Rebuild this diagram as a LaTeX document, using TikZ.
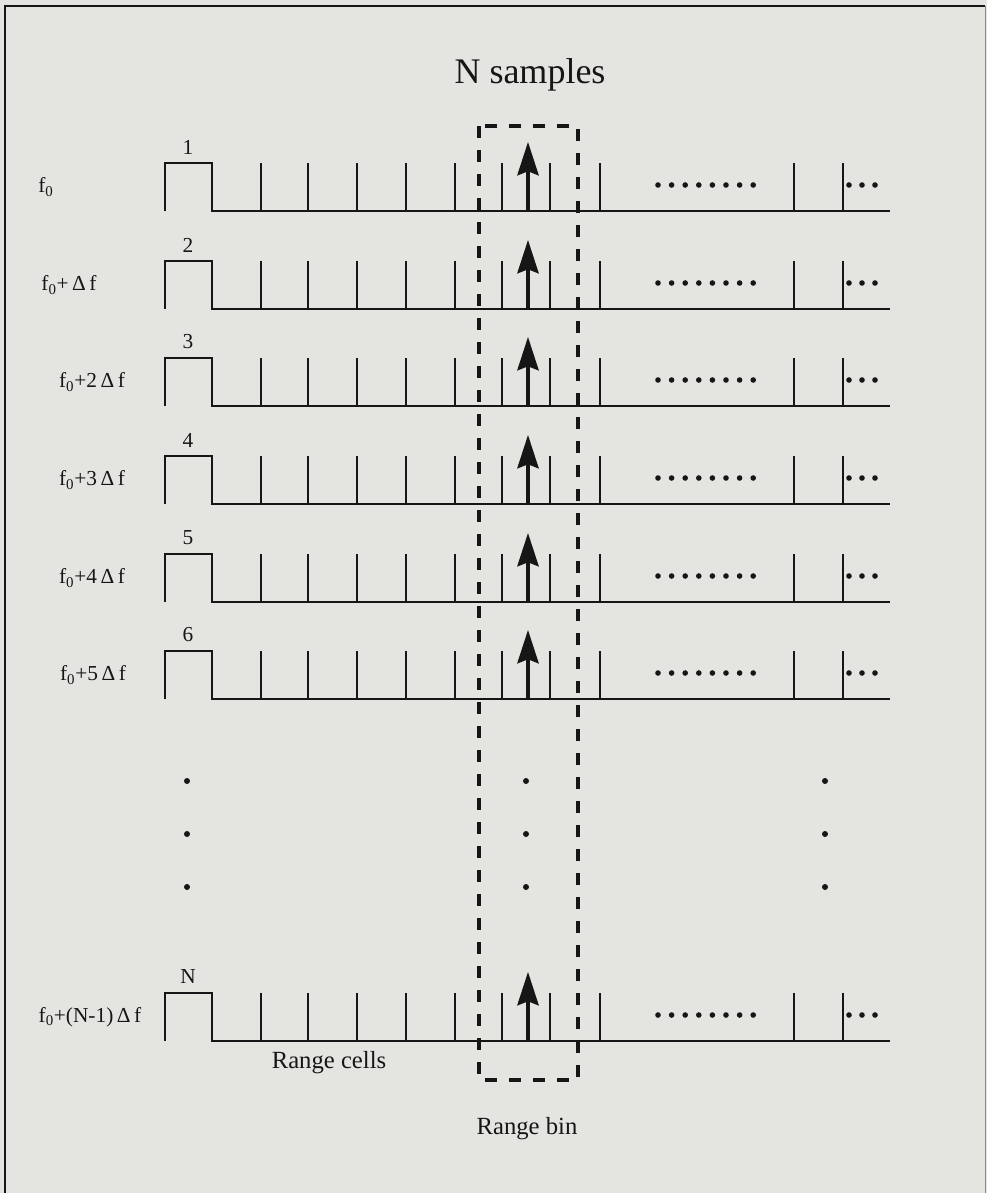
\documentclass[tikz,border=0pt]{standalone}
\usepackage{fontspec}
\setmainfont{Liberation Serif}
\usetikzlibrary{arrows.meta}
\definecolor{paper}{RGB}{228,229,225}
\definecolor{ink}{RGB}{22,22,22}
\begin{document}
\begin{tikzpicture}[x=0.75pt,y=-0.75pt,
  baseln/.style={ink,line width=1.6pt,line join=miter},
  tickln/.style={ink,line width=1.1pt},
  binarrow/.style={ink,line width=2.4pt,-{Stealth[length=25pt,width=16pt,inset=3pt]}},
  binbox/.style={ink,line width=2.4pt,dash pattern=on 9pt off 9pt},
  numlab/.style={font=\fontsize{16}{18}\selectfont,text=ink,inner sep=0pt},
  rowlab/.style={font=\fontsize{16}{18}\selectfont,text=ink,inner sep=0pt},
  dotmark/.style={ink},
  bigtitle/.style={font=\fontsize{27}{31}\selectfont,text=ink,inner sep=0pt},
  caption/.style={font=\fontsize{18.5}{22}\selectfont,text=ink,inner sep=0pt}]
\useasboundingbox (0,0) rectangle (987,1193);
\fill[paper] (0,0) rectangle (987,1193);
% frame
\draw[ink,line width=2pt] (5,1193) -- (5,6) -- (985,6);
\draw[ink!50,line width=0.6pt] (985,6) -- (985,1193);
% title
\node[bigtitle] (title) at (530,75) {N samples};
% rows
\foreach \i/\B/\n/\lx/\lab in {
  1/211/1/46/{f\textsubscript{0}},
  2/309/2/69/{f\textsubscript{0}+\,Δ\,f},
  3/406/3/92/{f\textsubscript{0}+2\,Δ\,f},
  4/504/4/92/{f\textsubscript{0}+3\,Δ\,f},
  5/602/5/92/{f\textsubscript{0}+4\,Δ\,f},
  6/699/6/93/{f\textsubscript{0}+5\,Δ\,f},
  7/1041/N/90/{f\textsubscript{0}+(N-1)\,Δ\,f}}{
  \draw[baseln] (165,\B) -- (165,{\B-48}) -- (212,{\B-48}) -- (212,\B) -- (890,\B);
  \foreach \t in {261,308,357,406,455,502,550,600,794,843}
    \draw[tickln] (\t,\B) -- (\t,{\B-48});
  \coordinate (foot\i) at (528,\B);
  \coordinate (tip\i) at (528,{\B-69});
  \draw[binarrow] (foot\i) -- (tip\i);
  \foreach \d in {0,...,7}
    \fill[dotmark] ({658+13.6*\d},{\B-26}) circle (2.8);
  \foreach \d in {849,862,875}
    \fill[dotmark] (\d,{\B-26}) circle (2.8);
  \node[numlab] (num\i) at (188,{\B-64}) {\n};
  \node[rowlab] (lab\i) at (\lx,{\B-24}) {\lab};
}
% vertical ellipsis
\foreach \x in {187,526,825}
  \foreach \y in {781,834,887}
    \fill[dotmark] (\x,\y) circle (3);
% range bin box
\draw[binbox] (479,126) rectangle (578,1080);
\node[caption] (cells) at (329,1063) {Range cells};
\node[caption] (bin) at (527,1129) {Range bin};
\end{tikzpicture}
\end{document}
